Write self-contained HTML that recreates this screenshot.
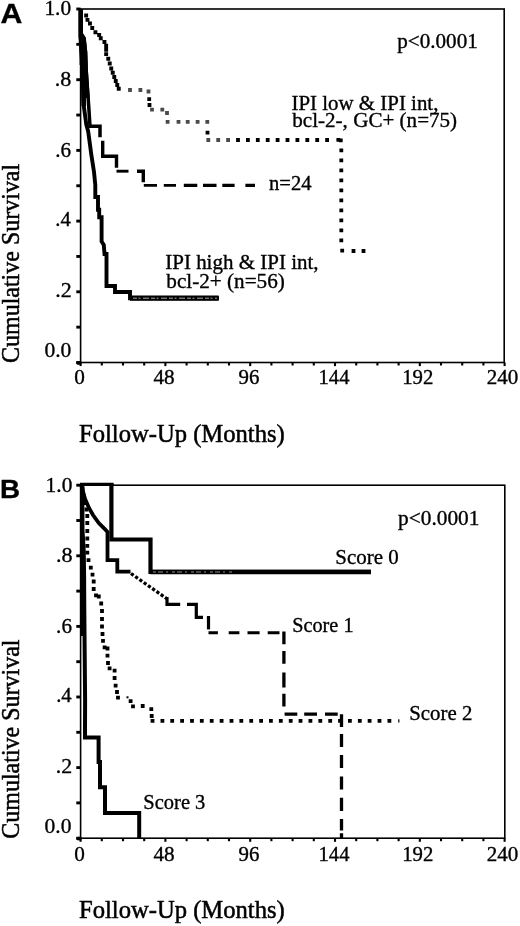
<!DOCTYPE html>
<html><head><meta charset="utf-8"><title>Figure</title>
<style>
html,body{margin:0;padding:0;background:#fff;}
svg{display:block}
text{font-kerning:none;fill:#000;white-space:pre;stroke:#000;stroke-width:0.35px}
.t{font-family:"Liberation Serif",serif}
.a{font-family:"Liberation Serif",serif;stroke-width:0.5px}
.L{font-family:"Liberation Sans",sans-serif;font-weight:bold}
</style></head><body>
<svg width="520" height="926" viewBox="0 0 520 926">
<rect width="520" height="926" fill="#fff"/>
<g id="panelA">
<rect x="80.6" y="9.0" width="423.6" height="353.5" fill="none" stroke="#000" stroke-width="1.6"/>
<line x1="76.3" y1="362.50" x2="80.6" y2="362.50" stroke="#000" stroke-width="2.9"/>
<line x1="76.3" y1="327.15" x2="80.6" y2="327.15" stroke="#000" stroke-width="2.9"/>
<line x1="76.3" y1="291.80" x2="80.6" y2="291.80" stroke="#000" stroke-width="2.9"/>
<line x1="76.3" y1="256.45" x2="80.6" y2="256.45" stroke="#000" stroke-width="2.9"/>
<line x1="76.3" y1="221.10" x2="80.6" y2="221.10" stroke="#000" stroke-width="2.9"/>
<line x1="76.3" y1="185.75" x2="80.6" y2="185.75" stroke="#000" stroke-width="2.9"/>
<line x1="76.3" y1="150.40" x2="80.6" y2="150.40" stroke="#000" stroke-width="2.9"/>
<line x1="76.3" y1="115.05" x2="80.6" y2="115.05" stroke="#000" stroke-width="2.9"/>
<line x1="76.3" y1="79.70" x2="80.6" y2="79.70" stroke="#000" stroke-width="2.9"/>
<line x1="76.3" y1="44.35" x2="80.6" y2="44.35" stroke="#000" stroke-width="2.9"/>
<line x1="76.3" y1="9.00" x2="80.6" y2="9.00" stroke="#000" stroke-width="2.9"/>
<line x1="80.60" y1="362.5" x2="80.60" y2="366.1" stroke="#000" stroke-width="2.1"/>
<line x1="101.80" y1="362.5" x2="101.80" y2="365.5" stroke="#000" stroke-width="2.1"/>
<line x1="123.00" y1="362.5" x2="123.00" y2="365.5" stroke="#000" stroke-width="2.1"/>
<line x1="144.20" y1="362.5" x2="144.20" y2="365.5" stroke="#000" stroke-width="2.1"/>
<line x1="165.40" y1="362.5" x2="165.40" y2="366.1" stroke="#000" stroke-width="2.1"/>
<line x1="186.60" y1="362.5" x2="186.60" y2="365.5" stroke="#000" stroke-width="2.1"/>
<line x1="207.80" y1="362.5" x2="207.80" y2="365.5" stroke="#000" stroke-width="2.1"/>
<line x1="229.00" y1="362.5" x2="229.00" y2="365.5" stroke="#000" stroke-width="2.1"/>
<line x1="250.20" y1="362.5" x2="250.20" y2="366.1" stroke="#000" stroke-width="2.1"/>
<line x1="271.40" y1="362.5" x2="271.40" y2="365.5" stroke="#000" stroke-width="2.1"/>
<line x1="292.60" y1="362.5" x2="292.60" y2="365.5" stroke="#000" stroke-width="2.1"/>
<line x1="313.80" y1="362.5" x2="313.80" y2="365.5" stroke="#000" stroke-width="2.1"/>
<line x1="335.00" y1="362.5" x2="335.00" y2="366.1" stroke="#000" stroke-width="2.1"/>
<line x1="356.21" y1="362.5" x2="356.21" y2="365.5" stroke="#000" stroke-width="2.1"/>
<line x1="377.41" y1="362.5" x2="377.41" y2="365.5" stroke="#000" stroke-width="2.1"/>
<line x1="398.61" y1="362.5" x2="398.61" y2="365.5" stroke="#000" stroke-width="2.1"/>
<line x1="419.81" y1="362.5" x2="419.81" y2="366.1" stroke="#000" stroke-width="2.1"/>
<line x1="441.01" y1="362.5" x2="441.01" y2="365.5" stroke="#000" stroke-width="2.1"/>
<line x1="462.21" y1="362.5" x2="462.21" y2="365.5" stroke="#000" stroke-width="2.1"/>
<line x1="483.41" y1="362.5" x2="483.41" y2="365.5" stroke="#000" stroke-width="2.1"/>
<line x1="504.61" y1="362.5" x2="504.61" y2="366.1" stroke="#000" stroke-width="2.1"/>
<ellipse cx="79.0" cy="362.9" rx="2.8" ry="1.9" fill="#000"/>
<text transform="translate(44.42,15.40) scale(0.9885,1)" class="t" font-size="21.6">1.0</text>
<text transform="translate(54.64,86.40) scale(1.0248,1)" class="t" font-size="21.6">.8</text>
<text transform="translate(55.31,156.80) scale(0.9765,1)" class="t" font-size="21.6">.6</text>
<text transform="translate(55.34,225.70) scale(0.9558,1)" class="t" font-size="21.6">.4</text>
<text transform="translate(55.25,296.50) scale(1.0159,1)" class="t" font-size="21.6">.2</text>
<text transform="translate(44.38,357.00) scale(0.9978,1)" class="t" font-size="21.6">0.0</text>
<text transform="translate(74.19,384.10) scale(1.0112,1)" class="t" font-size="21">0</text>
<text transform="translate(153.39,384.10) scale(1.0106,1)" class="t" font-size="21">48</text>
<text transform="translate(238.53,384.10) scale(0.9950,1)" class="t" font-size="21">96</text>
<text transform="translate(318.59,384.10) scale(0.9786,1)" class="t" font-size="21">144</text>
<text transform="translate(402.17,384.10) scale(0.9896,1)" class="t" font-size="21">192</text>
<text transform="translate(486.67,384.10) scale(1.0041,1)" class="t" font-size="21">240</text>
<text transform="translate(78.99,442.30) scale(1.0051,1)" class="a" font-size="24.5">Follow-Up (Months)</text>
<text transform="translate(18.80,362.98) rotate(-90) scale(0.9794,1)" class="a" font-size="24.5">Cumulative Survival</text>
<text transform="translate(0.45,23.40) scale(1.1043,1)" class="L" font-size="27.4">A</text>
<text transform="translate(397.26,48.40) scale(1.0065,1)" class="t" font-size="21">p&lt;0.0001</text>
<path d="M84.2,13.6h3.9v3.9h-3.9z M85.5,17.9h3.9v3.9h-3.9z M88.0,21.6h3.9v3.9h-3.9z M90.3,26.1h3.9v3.9h-3.9z M93.5,30.3h3.9v3.9h-3.9z M97.2,33.0h3.9v3.9h-3.9z M98.8,36.3h3.9v3.9h-3.9z M102.5,40.0h3.9v3.9h-3.9z M104.2,43.8h3.9v3.9h-3.9z M104.2,47.8h3.9v3.9h-3.9z M104.2,52.2h3.9v3.9h-3.9z M106.3,56.8h3.9v3.9h-3.9z M107.8,61.5h3.9v3.9h-3.9z M109.3,66.5h3.9v3.9h-3.9z M110.8,70.8h3.9v3.9h-3.9z M112.3,75.0h3.9v3.9h-3.9z M113.8,79.0h3.9v3.9h-3.9z M115.3,83.0h3.9v3.9h-3.9z M116.8,86.8h3.9v3.9h-3.9z" fill="#000"/>
<path d="M147.3,97.3h3.8v3.8h-3.8z M147.6,103.1h3.8v3.8h-3.8z M205.6,130.8h3.8v3.8h-3.8z M236.1,138.1h3.8v3.8h-3.8z M246.0,138.1h3.8v3.8h-3.8z M255.9,138.1h3.8v3.8h-3.8z M265.8,138.1h3.8v3.8h-3.8z M275.7,138.1h3.8v3.8h-3.8z M285.6,138.1h3.8v3.8h-3.8z M295.5,138.1h3.8v3.8h-3.8z M305.4,138.1h3.8v3.8h-3.8z M315.3,138.1h3.8v3.8h-3.8z M325.2,138.1h3.8v3.8h-3.8z M336.4,137.9h3.8v3.8h-3.8z M338.9,138.5h3.8v3.8h-3.8z M339.4,148.5h3.8v3.8h-3.8z M339.4,158.5h3.8v3.8h-3.8z M339.4,168.5h3.8v3.8h-3.8z M339.4,178.5h3.8v3.8h-3.8z M339.4,188.5h3.8v3.8h-3.8z M339.4,198.5h3.8v3.8h-3.8z M339.4,208.5h3.8v3.8h-3.8z M339.4,218.5h3.8v3.8h-3.8z M339.4,228.5h3.8v3.8h-3.8z M339.4,238.5h3.8v3.8h-3.8z M340.3,248.7h3.8v3.8h-3.8z M351.6,249.1h3.8v3.8h-3.8z M361.6,249.1h3.8v3.8h-3.8z" fill="#000"/>
<path d="M128.1,88.1h3.8v3.8h-3.8z M138.5,88.1h3.8v3.8h-3.8z M146.6,89.6h3.8v3.8h-3.8z M150.1,107.7h3.8v3.8h-3.8z M160.4,107.7h3.8v3.8h-3.8z M165.1,111.1h3.8v3.8h-3.8z M165.7,119.9h3.8v3.8h-3.8z M176.6,119.9h3.8v3.8h-3.8z M185.8,119.9h3.8v3.8h-3.8z M195.7,119.9h3.8v3.8h-3.8z M205.4,119.9h3.8v3.8h-3.8z M206.4,138.1h3.8v3.8h-3.8z M216.3,138.1h3.8v3.8h-3.8z M226.2,138.1h3.8v3.8h-3.8z" fill="#4a4a4a"/>
<path d="M80.8,9.0 L80.8,33.0 L84.0,38.0 L85.5,52.0 L86.2,71.0 L88.7,106.0 L90.0,126.3 L100.0,126.3 L100.0,137.3" fill="none" stroke="#000" stroke-width="3.5"/>
<path d="M79.6,9 L82.5,9 L82.5,33 L85.8,38 L87.3,52 L88,71 L89.7,98 L82,98 L81.6,65 L79.6,65 Z" fill="#000"/>
<path d="M102.7,140.8 L102.7,156.2 L116.5,156.2 L116.5,167.7" fill="none" stroke="#000" stroke-width="3.4"/>
<path d="M116.5,171.2 L128.5,171.2" fill="none" stroke="#000" stroke-width="2.9"/>
<path d="M137.0,171.2 L143.3,171.2 L143.3,182.3" fill="none" stroke="#000" stroke-width="3.4"/>
<path d="M143.8,185.4 L157.0,185.4 M163.8,185.4 L176.0,185.4" fill="none" stroke="#000" stroke-width="2.6"/>
<path d="M183.8,185.4 L197.3,185.4 M203.0,185.4 L216.5,185.4 M222.3,185.4 L234.6,185.4 M245.4,185.4 L255.0,185.4" fill="none" stroke="#000" stroke-width="3.2"/>
<path d="M80.7,9.0 L80.7,36.0 L83.0,71.5 L83.8,106.0 L86.3,124.6 L88.2,131.5 L91.3,154.6 L94.0,172.0 L95.3,185.0 L95.3,197.0 L98.0,197.0 L98.0,209.8 L99.2,209.8 L99.2,217.3 L101.6,217.3 L101.6,241.5 L103.8,245.0 L104.5,254.0 L106.5,254.0 L106.5,286.0 L115.0,286.0 L115.0,292.0 L130.0,292.0 L130.0,298.3 L219.0,298.3" fill="none" stroke="#000" stroke-width="3.9" stroke-linejoin="miter"/>
<path d="M80.7,9.0 L80.7,36.0 L83.0,71.5 L83.8,106.0" fill="none" stroke="#000" stroke-width="4.6"/>
<path d="M130.0,298.2 L218.6,298.2" fill="none" stroke="#000" stroke-width="5.2"/>
<path d="M133,298.2 L217,298.2" fill="none" stroke="#fff" stroke-width="0.9" stroke-dasharray="4 1.5 2 2.5 6 2" opacity="0.75"/>
<text transform="translate(291.54,110.00) scale(0.9959,1)" class="t" font-size="21">IPI low &amp; IPI int,</text>
<text transform="translate(292.30,127.20) scale(1.0042,1)" class="t" font-size="21">bcl-2-, GC+ (n=75)</text>
<text transform="translate(269.03,189.80) scale(0.9804,1)" class="t" font-size="21">n=24</text>
<text transform="translate(165.24,269.20) scale(0.9998,1)" class="t" font-size="21">IPI high &amp; IPI int,</text>
<text transform="translate(166.30,288.00) scale(1.0090,1)" class="t" font-size="21">bcl-2+ (n=56)</text>
</g>
<g id="panelB">
<rect x="80.6" y="485.2" width="424.20000000000005" height="353.00000000000006" fill="none" stroke="#000" stroke-width="1.6"/>
<line x1="76.3" y1="838.20" x2="80.6" y2="838.20" stroke="#000" stroke-width="2.9"/>
<line x1="76.3" y1="802.90" x2="80.6" y2="802.90" stroke="#000" stroke-width="2.9"/>
<line x1="76.3" y1="767.60" x2="80.6" y2="767.60" stroke="#000" stroke-width="2.9"/>
<line x1="76.3" y1="732.30" x2="80.6" y2="732.30" stroke="#000" stroke-width="2.9"/>
<line x1="76.3" y1="697.00" x2="80.6" y2="697.00" stroke="#000" stroke-width="2.9"/>
<line x1="76.3" y1="661.70" x2="80.6" y2="661.70" stroke="#000" stroke-width="2.9"/>
<line x1="76.3" y1="626.40" x2="80.6" y2="626.40" stroke="#000" stroke-width="2.9"/>
<line x1="76.3" y1="591.10" x2="80.6" y2="591.10" stroke="#000" stroke-width="2.9"/>
<line x1="76.3" y1="555.80" x2="80.6" y2="555.80" stroke="#000" stroke-width="2.9"/>
<line x1="76.3" y1="520.50" x2="80.6" y2="520.50" stroke="#000" stroke-width="2.9"/>
<line x1="76.3" y1="485.20" x2="80.6" y2="485.20" stroke="#000" stroke-width="2.9"/>
<line x1="80.60" y1="838.2" x2="80.60" y2="841.8000000000001" stroke="#000" stroke-width="2.1"/>
<line x1="101.80" y1="838.2" x2="101.80" y2="841.2" stroke="#000" stroke-width="2.1"/>
<line x1="123.00" y1="838.2" x2="123.00" y2="841.2" stroke="#000" stroke-width="2.1"/>
<line x1="144.20" y1="838.2" x2="144.20" y2="841.2" stroke="#000" stroke-width="2.1"/>
<line x1="165.40" y1="838.2" x2="165.40" y2="841.8000000000001" stroke="#000" stroke-width="2.1"/>
<line x1="186.60" y1="838.2" x2="186.60" y2="841.2" stroke="#000" stroke-width="2.1"/>
<line x1="207.80" y1="838.2" x2="207.80" y2="841.2" stroke="#000" stroke-width="2.1"/>
<line x1="229.00" y1="838.2" x2="229.00" y2="841.2" stroke="#000" stroke-width="2.1"/>
<line x1="250.20" y1="838.2" x2="250.20" y2="841.8000000000001" stroke="#000" stroke-width="2.1"/>
<line x1="271.40" y1="838.2" x2="271.40" y2="841.2" stroke="#000" stroke-width="2.1"/>
<line x1="292.60" y1="838.2" x2="292.60" y2="841.2" stroke="#000" stroke-width="2.1"/>
<line x1="313.80" y1="838.2" x2="313.80" y2="841.2" stroke="#000" stroke-width="2.1"/>
<line x1="335.00" y1="838.2" x2="335.00" y2="841.8000000000001" stroke="#000" stroke-width="2.1"/>
<line x1="356.21" y1="838.2" x2="356.21" y2="841.2" stroke="#000" stroke-width="2.1"/>
<line x1="377.41" y1="838.2" x2="377.41" y2="841.2" stroke="#000" stroke-width="2.1"/>
<line x1="398.61" y1="838.2" x2="398.61" y2="841.2" stroke="#000" stroke-width="2.1"/>
<line x1="419.81" y1="838.2" x2="419.81" y2="841.8000000000001" stroke="#000" stroke-width="2.1"/>
<line x1="441.01" y1="838.2" x2="441.01" y2="841.2" stroke="#000" stroke-width="2.1"/>
<line x1="462.21" y1="838.2" x2="462.21" y2="841.2" stroke="#000" stroke-width="2.1"/>
<line x1="483.41" y1="838.2" x2="483.41" y2="841.2" stroke="#000" stroke-width="2.1"/>
<line x1="504.61" y1="838.2" x2="504.61" y2="841.8000000000001" stroke="#000" stroke-width="2.1"/>
<ellipse cx="79.0" cy="838.6" rx="2.8" ry="1.9" fill="#000"/>
<text transform="translate(45.62,491.60) scale(0.9885,1)" class="t" font-size="21.6">1.0</text>
<text transform="translate(55.94,561.60) scale(1.0248,1)" class="t" font-size="21.6">.8</text>
<text transform="translate(56.11,632.90) scale(0.9765,1)" class="t" font-size="21.6">.6</text>
<text transform="translate(56.14,701.60) scale(0.9558,1)" class="t" font-size="21.6">.4</text>
<text transform="translate(55.75,772.60) scale(1.0159,1)" class="t" font-size="21.6">.2</text>
<text transform="translate(44.58,832.60) scale(0.9978,1)" class="t" font-size="21.6">0.0</text>
<text transform="translate(74.19,861.00) scale(1.0112,1)" class="t" font-size="21">0</text>
<text transform="translate(153.39,861.00) scale(1.0106,1)" class="t" font-size="21">48</text>
<text transform="translate(238.53,861.00) scale(0.9950,1)" class="t" font-size="21">96</text>
<text transform="translate(318.59,861.00) scale(0.9786,1)" class="t" font-size="21">144</text>
<text transform="translate(402.17,861.00) scale(0.9896,1)" class="t" font-size="21">192</text>
<text transform="translate(486.67,861.00) scale(1.0041,1)" class="t" font-size="21">240</text>
<text transform="translate(78.99,918.00) scale(1.0051,1)" class="a" font-size="24.5">Follow-Up (Months)</text>
<text transform="translate(18.80,838.68) rotate(-90) scale(0.9794,1)" class="a" font-size="24.5">Cumulative Survival</text>
<text transform="translate(-0.06,498.00) scale(1.0559,1)" class="L" font-size="26.4">B</text>
<text transform="translate(398.06,525.20) scale(1.0166,1)" class="t" font-size="21">p&lt;0.0001</text>
<path d="M111.4,483.2 L111.4,539.5 L150.5,539.5 L150.5,571.9 L371.0,571.9" fill="none" stroke="#000" stroke-width="4.2"/>
<path d="M150.5,572.0 L371.0,572.0" fill="none" stroke="#000" stroke-width="4.7"/>
<path d="M80.0,484.4 L113.5,484.4" fill="none" stroke="#000" stroke-width="3.2"/>
<path d="M153,572 L232,572" fill="none" stroke="#fff" stroke-width="0.8" stroke-dasharray="3 2 5 3 2 4" opacity="0.7"/>
<path d="M81.5,486.0 L85.0,498.8 L89.0,508.0 L93.0,515.0 L98.8,523.0 L104.6,528.8 L107.5,532.0 L107.5,560.2 L117.3,560.2 L117.3,571.6 L130.5,571.6" fill="none" stroke="#000" stroke-width="3.8"/>
<path d="M131.0,573.5 L166.5,598.5" fill="none" stroke="#000" stroke-width="3.3" stroke-dasharray="3.2 2"/>
<path d="M167.0,597.0 L167.0,604.4 L180.2,604.4" fill="none" stroke="#000" stroke-width="3.2"/>
<path d="M187.0,604.4 L196.3,604.4 L196.3,617.3 L203.0,617.3" fill="none" stroke="#000" stroke-width="3.2"/>
<path d="M208.5,616.0 L208.5,629.4" fill="none" stroke="#000" stroke-width="3.2"/>
<path d="M208.5,632.8 L217.9,632.8 M228.7,632.8 L239.4,632.8 M247.5,632.8 L259.6,632.8 M267.7,632.8 L279.5,632.8" fill="none" stroke="#000" stroke-width="3.0"/>
<path d="M283.9,631.5 L283.9,644.2 M283.9,651.0 L283.9,663.8 M283.9,672.6 L283.9,687.5 M283.9,693.8 L283.9,706.5" fill="none" stroke="#000" stroke-width="3.3"/>
<path d="M284.6,714.2 L297.3,714.2 M304.2,714.2 L317.0,714.2 M325.0,714.2 L337.7,714.2" fill="none" stroke="#000" stroke-width="3.2"/>
<path d="M341.5,714.3 L341.5,727.0 M341.5,734.0 L341.5,747.0 M341.5,755.0 L341.5,768.0 M341.5,776.5 L341.5,789.6 M341.5,797.8 L341.5,811.0 M341.5,819.0 L341.5,830.5 M341.5,833.2 L341.5,838.0" fill="none" stroke="#000" stroke-width="3.3"/>
<path d="M80.6,487.1h3.8v3.8h-3.8z M82.1,494.1h3.8v3.8h-3.8z M83.6,501.1h3.8v3.8h-3.8z M84.6,507.6h3.8v3.8h-3.8z M85.4,514.1h3.8v3.8h-3.8z M85.4,521.1h3.8v3.8h-3.8z M85.4,529.1h3.8v3.8h-3.8z M85.4,536.6h3.8v3.8h-3.8z M85.4,543.9h3.8v3.8h-3.8z M85.4,550.8h3.8v3.8h-3.8z M86.6,558.3h3.8v3.8h-3.8z M88.9,565.8h3.8v3.8h-3.8z M90.6,572.7h3.8v3.8h-3.8z M91.8,579.6h3.8v3.8h-3.8z M91.8,587.1h3.8v3.8h-3.8z M94.1,593.5h3.8v3.8h-3.8z M96.9,594.6h3.8v3.8h-3.8z M99.3,601.6h3.8v3.8h-3.8z M100.1,609.1h3.8v3.8h-3.8z M100.1,617.1h3.8v3.8h-3.8z M100.1,624.6h3.8v3.8h-3.8z M100.6,632.1h3.8v3.8h-3.8z M101.1,638.9h3.8v3.8h-3.8z M102.7,645.4h3.8v3.8h-3.8z M105.6,646.6h3.8v3.8h-3.8z M105.6,653.7h3.8v3.8h-3.8z M106.1,661.1h3.8v3.8h-3.8z M107.7,666.4h3.8v3.8h-3.8z M112.7,668.7h3.8v3.8h-3.8z M112.7,676.1h3.8v3.8h-3.8z M113.7,683.7h3.8v3.8h-3.8z M115.1,690.1h3.8v3.8h-3.8z M116.1,695.8h3.8v3.8h-3.8z M128.7,699.3h3.8v3.8h-3.8z M131.1,704.4h3.8v3.8h-3.8z M140.8,704.1h3.8v3.8h-3.8z M149.4,707.3h3.8v3.8h-3.8z M149.8,714.1h3.8v3.8h-3.8z M150.6,718.9h3.8v3.8h-3.8z M160.5,718.9h3.8v3.8h-3.8z M170.3,718.9h3.8v3.8h-3.8z M180.2,718.9h3.8v3.8h-3.8z M190.1,718.9h3.8v3.8h-3.8z M199.9,718.9h3.8v3.8h-3.8z M209.8,718.9h3.8v3.8h-3.8z M219.7,718.9h3.8v3.8h-3.8z M229.6,718.9h3.8v3.8h-3.8z M239.4,718.9h3.8v3.8h-3.8z M249.3,718.9h3.8v3.8h-3.8z M259.2,718.9h3.8v3.8h-3.8z M269.0,718.9h3.8v3.8h-3.8z M278.9,718.9h3.8v3.8h-3.8z M288.8,718.9h3.8v3.8h-3.8z M298.6,718.9h3.8v3.8h-3.8z M308.5,718.9h3.8v3.8h-3.8z M318.4,718.9h3.8v3.8h-3.8z M328.3,718.9h3.8v3.8h-3.8z M338.1,718.9h3.8v3.8h-3.8z M348.0,718.9h3.8v3.8h-3.8z M357.9,718.9h3.8v3.8h-3.8z M367.7,718.9h3.8v3.8h-3.8z M377.6,718.9h3.8v3.8h-3.8z M387.5,718.9h3.8v3.8h-3.8z" fill="#000"/>
<path d="M126.5,696.3h2v2h-2z" fill="#000"/>
<rect x="398.2" y="719.3" width="1.2" height="3.2" fill="#000"/>
<path d="M82.3,485.0 L82.5,530.0 L83.7,550.0 L84.1,575.0 L84.3,610.0 L85.1,700.0 L85.0,730.0 L85.0,737.6 L98.6,737.6 L98.6,762.0 L100.0,762.0 L100.0,787.3 L105.0,787.3 L105.0,813.0 L139.2,813.0 L139.2,838.0" fill="none" stroke="#000" stroke-width="4" stroke-linejoin="miter"/>
<path d="M80,485 L82.3,485 L82.5,530 L83.7,550 L84.1,575 L84.3,610 L84.5,636 L80,636 Z" fill="#000"/>
<text transform="translate(335.30,564.20) scale(0.9742,1)" class="t" font-size="21.5">Score 0</text>
<text transform="translate(292.25,631.90) scale(0.9415,1)" class="t" font-size="21.5">Score 1</text>
<text transform="translate(409.20,720.20) scale(0.9703,1)" class="t" font-size="21.5">Score 2</text>
<text transform="translate(143.33,808.50) scale(0.9538,1)" class="t" font-size="21.5">Score 3</text>
</g>
</svg>
</body></html>
